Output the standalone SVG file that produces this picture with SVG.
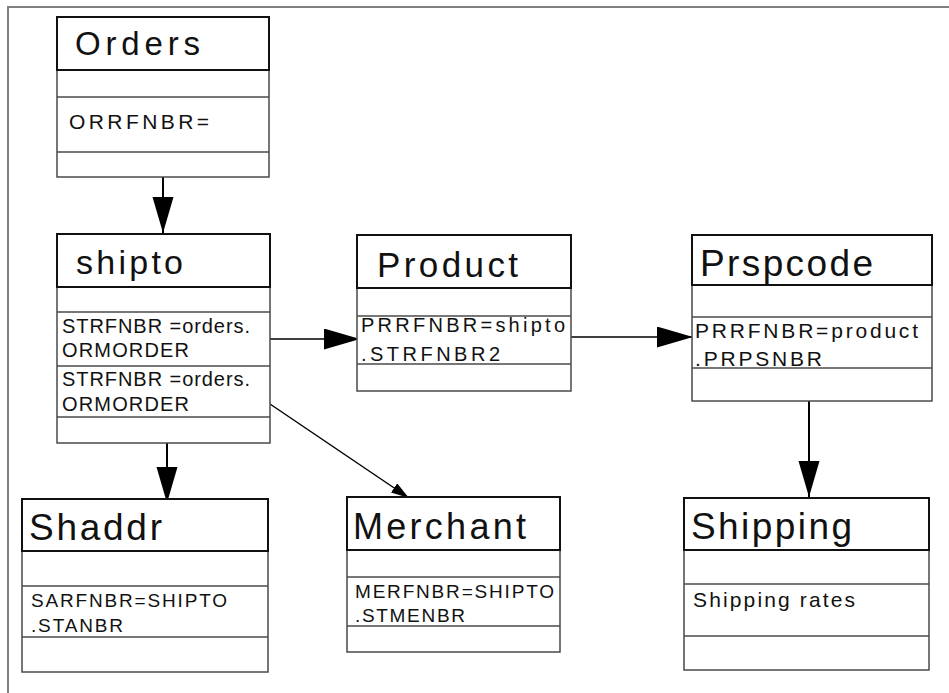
<svg xmlns="http://www.w3.org/2000/svg" width="949" height="693" viewBox="0 0 949 693">
<style>
.frame{fill:none;stroke:#808080;stroke-width:2}
.body{fill:#fff;stroke:#4a4a4a;stroke-width:1.5}
.head{fill:none;stroke:#111;stroke-width:2}
.div{stroke:#4a4a4a;stroke-width:1.5}
.title{font-family:"Liberation Sans",Arial,sans-serif;fill:#111}
.row{font-family:"Liberation Sans",Arial,sans-serif;fill:#111}
.conn{stroke:#000;fill:none}
</style>
<defs>
<marker id="big" markerUnits="userSpaceOnUse" markerWidth="36" markerHeight="22" refX="36" refY="10.5" orient="auto">
<path d="M0,0 L36,10.5 L0,21 Z" fill="#000"/>
</marker>
<marker id="small" markerUnits="userSpaceOnUse" markerWidth="18" markerHeight="12" refX="18" refY="5.5" orient="auto">
<path d="M0,0 L18,5.5 L0,11 Z" fill="#000"/>
</marker>
</defs>
<rect width="949" height="693" fill="#fff"/>
<path class="frame" d="M8,693 L8,7 L949,7"/>

<g id="connectors">
<line class="conn" stroke-width="2" x1="163" y1="177" x2="163" y2="233" marker-end="url(#big)"/>
<line class="conn" stroke-width="1.5" x1="268" y1="339" x2="360" y2="339" marker-end="url(#big)"/>
<line class="conn" stroke-width="1.5" x1="571" y1="337" x2="693" y2="337" marker-end="url(#big)"/>
<line class="conn" stroke-width="2" x1="809" y1="401" x2="809" y2="497" marker-end="url(#big)"/>
<line class="conn" stroke-width="2" x1="167" y1="443" x2="167" y2="503" marker-end="url(#big)"/>
<line class="conn" stroke-width="1.5" x1="270" y1="404" x2="409" y2="498" marker-end="url(#small)"/>
</g>

<g id="orders">
<rect class="body" x="57" y="17" width="212" height="160"/>
<rect class="head" x="57" y="17" width="212" height="53"/>
<line class="div" x1="57" y1="97" x2="269" y2="97"/>
<line class="div" x1="57" y1="152" x2="269" y2="152"/>
<text class="title" x="75" y="55" font-size="33" textLength="125">Orders</text>
<text class="row" x="69" y="129" font-size="21" textLength="140">ORRFNBR=</text>
</g>

<g id="shipto">
<rect class="body" x="57" y="234" width="213" height="209"/>
<rect class="head" x="57" y="234" width="213" height="53"/>
<line class="div" x1="57" y1="312" x2="270" y2="312"/>
<line class="div" x1="57" y1="366" x2="270" y2="366"/>
<line class="div" x1="57" y1="417" x2="270" y2="417"/>
<text class="title" x="76" y="274" font-size="34" textLength="107">shipto</text>
<text class="row" x="62" y="333" font-size="20" textLength="188">STRFNBR =orders.</text>
<text class="row" x="62" y="357" font-size="20" textLength="127">ORMORDER</text>
<text class="row" x="62" y="386" font-size="20" textLength="188">STRFNBR =orders.</text>
<text class="row" x="62" y="411" font-size="20" textLength="127">ORMORDER</text>
</g>

<g id="product">
<rect class="body" x="357" y="235" width="214" height="156"/>
<rect class="head" x="357" y="235" width="214" height="53"/>
<line class="div" x1="357" y1="316" x2="571" y2="316"/>
<line class="div" x1="357" y1="364" x2="571" y2="364"/>
<text class="title" x="377" y="277" font-size="35" textLength="141">Product</text>
<text class="row" x="361" y="332" font-size="20" textLength="204">PRRFNBR=shipto</text>
<text class="row" x="361" y="361" font-size="20" textLength="139">.STRFNBR2</text>
</g>

<g id="prspcode">
<rect class="body" x="692" y="235" width="240" height="166"/>
<rect class="head" x="692" y="235" width="240" height="50"/>
<line class="div" x1="692" y1="317" x2="932" y2="317"/>
<line class="div" x1="692" y1="368" x2="932" y2="368"/>
<text class="title" x="700" y="276" font-size="37" textLength="173">Prspcode</text>
<text class="row" x="695" y="338" font-size="21" textLength="223">PRRFNBR=product</text>
<text class="row" x="695" y="366" font-size="21" textLength="127">.PRPSNBR</text>
</g>

<g id="shaddr">
<rect class="body" x="22" y="499" width="246" height="173"/>
<rect class="head" x="22" y="499" width="246" height="52"/>
<line class="div" x1="22" y1="586" x2="268" y2="586"/>
<line class="div" x1="22" y1="637" x2="268" y2="637"/>
<text class="title" x="29" y="540" font-size="37" textLength="133">Shaddr</text>
<text class="row" x="31" y="607" font-size="19" textLength="196">SARFNBR=SHIPTO</text>
<text class="row" x="31" y="632" font-size="19" textLength="92">.STANBR</text>
</g>

<g id="merchant">
<rect class="body" x="347" y="497" width="213" height="155"/>
<rect class="head" x="347" y="497" width="213" height="53"/>
<line class="div" x1="347" y1="577" x2="560" y2="577"/>
<line class="div" x1="347" y1="626" x2="560" y2="626"/>
<text class="title" x="353" y="539" font-size="36" textLength="173">Merchant</text>
<text class="row" x="355" y="598" font-size="19" textLength="199">MERFNBR=SHIPTO</text>
<text class="row" x="355" y="622" font-size="19" textLength="110">.STMENBR</text>
</g>

<g id="shipping">
<rect class="body" x="684" y="498" width="245" height="172"/>
<rect class="head" x="684" y="498" width="245" height="52"/>
<line class="div" x1="684" y1="584" x2="929" y2="584"/>
<line class="div" x1="684" y1="636" x2="929" y2="636"/>
<text class="title" x="691" y="539" font-size="37" textLength="161">Shipping</text>
<text class="row" x="693" y="607" font-size="21" textLength="162">Shipping rates</text>
</g>
</svg>
